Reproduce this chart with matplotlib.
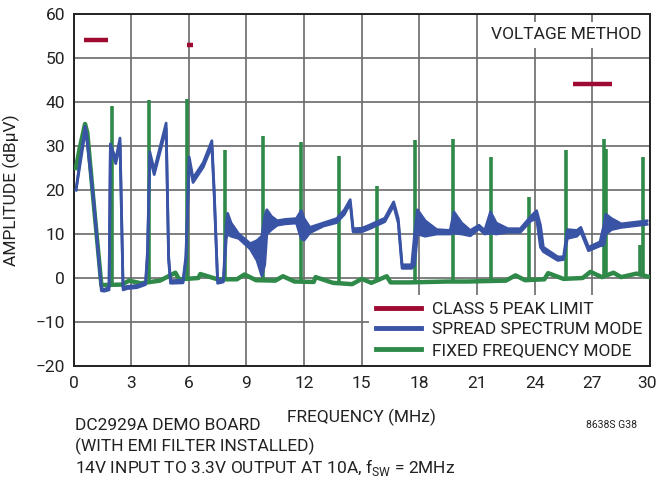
import numpy as np
import matplotlib
matplotlib.use("Agg")
import matplotlib.pyplot as plt
from matplotlib.lines import Line2D
from matplotlib.transforms import ScaledTranslation

plt.rcParams['font.family'] = ['Roboto', 'DejaVu Sans']

# ---------------- data ----------------
# CISPR 25 class 5 peak limits (MHz start, MHz end, dBuV)
limit_start = [0.53, 5.9, 26.0]
limit_end = [1.8, 6.2, 28.0]
limit_level = [54, 53, 44]

# spread spectrum mode: frequency, upper and lower edge of the trace band
blue_f = [0.13, 0.35, 0.6, 0.68, 1.05, 1.45, 1.6, 1.85, 1.92, 2.2, 2.42, 2.58,
          2.8, 3.3, 3.75, 3.85, 3.97, 4.2, 4.82, 4.95, 5.05, 5.7, 5.85, 6.02,
          6.22, 6.75, 7.2, 7.32, 7.5, 7.8, 7.95, 8.02, 8.2, 8.6, 9.2, 9.55,
          9.8, 9.95, 10.06, 10.3, 10.6, 11.0, 11.6, 11.85, 12.0, 12.3, 13.0,
          13.7, 14.1, 14.4, 14.55, 15.0, 15.4, 16.2, 16.66, 16.9, 17.1, 17.6,
          17.75, 17.9, 18.3, 18.9, 19.6, 19.8, 20.2, 20.65, 21.1, 21.4, 21.7,
          22.0, 22.6, 23.25, 23.8, 24.1, 24.3, 24.45, 25.2, 25.5, 25.7, 26.2,
          26.4, 26.8, 27.4, 27.6, 27.7, 28.0, 28.5, 29.85]
blue_top = [20, 27, 34.5, 33, 18, -2.3, -2.6, -2.1, 30.5, 27, 31.8, -2.1,
            -1.9, -1.7, -1.0, 6, 28.7, 24.5, 35.2, 5, -0.6, -0.5, 5, 27.5,
            22.7, 26.2, 31.2, 20, -0.6, -0.4, 12, 14.7, 12.5, 10, 7.8, 8.5,
            9.5, 14, 15.5, 14, 13, 13.3, 13.5, 15.3, 13.5, 11.5, 12.5,
            13.5, 15.5, 17.8, 11.2, 11.3, 12, 13.6, 17.3, 13.5, 3, 3,
            10, 15.5, 13, 11, 10.8, 15, 12.5, 10.8, 12, 10.8, 15,
            12.5, 11.2, 11.2, 14, 15.3, 12, 7, 4.8, 4.8, 11, 10.8,
            11.5, 7, 8.2, 12, 14.5, 13.5, 12.3, 13]
blue_bot = [20, 26, 33, 32, 17, -2.9, -3.0, -2.7, 29.5, 26, 30.5, -2.7,
            -2.4, -2.2, -1.5, 5, 27.5, 23.5, 34, 4, -1.2, -1.1, 4, 26.5,
            21.7, 25.2, 30, 19, -1.2, -0.9, 9, 10, 9.5, 9, 6.6, 4,
            0.5, 3, 10, 11, 12, 12.3, 12.5, 9, 8.6, 10.3, 11.8,
            12.6, 14.5, 17, 10.5, 10.5, 11.2, 12.8, 16.5, 12.5, 2.2, 2.2,
            3, 10, 9.5, 10, 10, 10.2, 10, 9.6, 11.2, 10, 10.2,
            10, 10.4, 10.4, 13, 13.5, 7, 6, 4, 4.2, 9, 9.5,
            10.5, 6.2, 7.3, 7.5, 10, 11, 11.5, 12.2]

# fixed frequency mode: low-frequency hump and noise floor
green_f = [0.13, 0.3, 0.6, 0.72, 1.05, 1.45, 2.5, 2.9, 3.5, 4.5, 5.3, 5.5,
           6.5, 6.6, 7.5, 8.5, 8.9, 9.5, 10.5, 10.9, 11.5, 12.5, 12.6, 13.5,
           14.5, 15.0, 15.5, 16.3, 16.5, 17.5, 18.5, 19.5, 20.5, 21.5, 22.5,
           23.0, 23.5, 24.5, 24.7, 25.5, 26.5, 26.9, 27.5, 28.1, 28.5, 29.3,
           29.9]
green_db = [25, 29, 35, 33, 17, -1.6, -1.5, -0.6, -1.2, -0.6, 1.2, -0.3,
            0, 0.9, -0.3, -0.3, 0.8, -0.5, -0.6, 0.4, -0.8, -0.9, 0.2, -1.1,
            -1.4, -0.2, -1.1, 0.4, -1.0, -1.0, -0.9, -0.8, -0.8, -0.7, -0.6,
            0.6, -0.5, -0.3, 1.1, -0.2, 0, 1.4, 0.2, 1.2, 0.2, 1.0, 0.3]

# fixed frequency harmonics (MHz, peak dBuV)
spike_f = [1.98, 3.95, 5.92, 7.89, 9.87, 11.85, 13.82, 15.8, 17.75, 19.73,
           21.7, 23.68, 25.65, 27.6, 27.72, 29.5, 29.62]
spike_db = [39, 40.5, 40.7, 29, 32.3, 31, 27.7, 21, 31.4, 31.6,
            27.6, 18.5, 29.1, 31.6, 29.3, 7.5, 27.5]

x_ticks = [0, 3, 6, 9, 12, 15, 18, 21, 24, 27, 30]
y_ticks = [-20, -10, 0, 10, 20, 30, 40, 50, 60]

RED = '#9E0A32'
BLUE = '#3A54A5'
GREEN = '#2F8A49'
TXT = '#222222'
FS = 12.5

# ---------------- figure ----------------
fig = plt.figure(figsize=(6.58, 4.82), dpi=100)
ax = fig.add_axes([73.5 / 658, 1 - 366 / 482, (650 - 73.5) / 658, (366 - 14) / 482])

ax.set_xlim(0, 30)
ax.set_ylim(-20, 60)
ax.set_xticks(x_ticks)
ax.set_yticks(y_ticks)
ax.tick_params(length=0, labelsize=FS, colors=TXT)
ax.tick_params(axis='x', pad=7)
ax.tick_params(axis='y', pad=6)
ax.grid(True, color='#6a6a6a', lw=1.2)
ax.set_axisbelow(True)
for s in ax.spines.values():
    s.set_linewidth(1.4)
    s.set_color(TXT)

# keep the last x tick label inside the image
last = ax.get_xticklabels()[-1]
last.set_transform(last.get_transform() + ScaledTranslation(-3 / 100, 0, fig.dpi_scale_trans))

# green trace
ax.plot(green_f, green_db, color=GREEN, lw=3.2, solid_joinstyle='round', zorder=3)
feet = np.interp(spike_f, green_f, green_db)
ax.vlines(spike_f, feet, spike_db, color=GREEN, lw=2.6, zorder=3)

# blue trace
ax.fill_between(blue_f, blue_bot, blue_top, color=BLUE, lw=0, zorder=4)
ax.plot(blue_f, blue_top, color=BLUE, lw=2.0, solid_joinstyle='round', zorder=4)
ax.plot(blue_f, blue_bot, color=BLUE, lw=2.0, solid_joinstyle='round', zorder=4)

# limits
ax.hlines(limit_level, limit_start, limit_end, color=RED, lw=3.2, zorder=5)

# voltage method label
ax.text(0.985, 0.962, 'VOLTAGE METHOD', transform=ax.transAxes, ha='right', va='top',
        fontsize=FS, color=TXT, zorder=6,
        bbox=dict(facecolor='white', edgecolor='none', pad=4))

handles = [Line2D([], [], color=RED, lw=3.5),
           Line2D([], [], color=BLUE, lw=3.5),
           Line2D([], [], color=GREEN, lw=3.5)]
labels = ['CLASS 5 PEAK LIMIT', 'SPREAD SPECTRUM MODE', 'FIXED FREQUENCY MODE']
leg = ax.legend(handles, labels, loc='lower right', bbox_to_anchor=(1.0, 0.0),
                fontsize=FS, frameon=True, fancybox=False, framealpha=1,
                edgecolor='none', facecolor='white', handlelength=2.6,
                handletextpad=0.6, labelspacing=0.32, borderpad=0.4,
                borderaxespad=0.05)
leg.set_zorder(7)
for t in leg.get_texts():
    t.set_color(TXT)

ax.set_ylabel('AMPLITUDE (dBµV)', fontsize=FS, color=TXT)
ax.yaxis.set_label_coords(-(73.5 - 20) / 576.5, 0.5)
ax.set_xlabel('FREQUENCY (MHz)', fontsize=FS, color=TXT)
ax.xaxis.set_label_coords(0.5, -(409 - 366) / 352)

fig.text(75 / 658, 1 - 425 / 482, 'DC2929A DEMO BOARD', fontsize=FS, color=TXT,
         ha='left', va='center')
fig.text(75 / 658, 1 - 446 / 482, '(WITH EMI FILTER INSTALLED)', fontsize=FS,
         color=TXT, ha='left', va='center')
fig.text(75 / 658, 1 - 467 / 482, '14V INPUT TO 3.3V OUTPUT AT 10A, f$_{\\mathregular{SW}}$ = 2MHz',
         fontsize=FS, color=TXT, ha='left', va='center')
fig.text(637 / 658, 1 - 425 / 482, '8638S G38', fontsize=7.5, color=TXT,
         ha='right', va='center')

fig.savefig('out.png', dpi=100)
